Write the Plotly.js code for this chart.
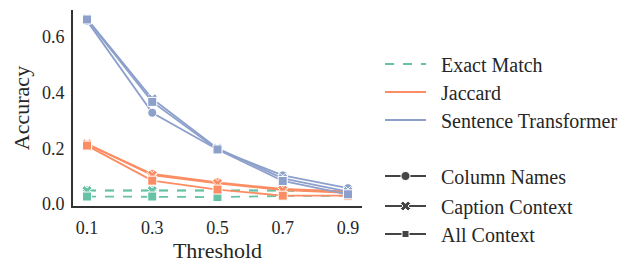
<!DOCTYPE html>
<html>
<head>
<meta charset="utf-8">
<script src="https://cdn.plot.ly/plotly-3.0.1.min.js"></script>
<style>html,body{margin:0;padding:0;background:#fff;}#chart{width:642px;height:275px;}</style>
</head>
<body>
<div id="chart"></div>
<script>
const thresholds = [0.1, 0.3, 0.5, 0.7, 0.9];
const tickLabels = ["0.1", "0.3", "0.5", "0.7", "0.9"];
const metrics = ["Exact Match", "Jaccard", "Sentence Transformer"];
const contexts = ["Column Names", "Caption Context", "All Context"];

const exactColumnNames   = [0.049, 0.049, 0.047, 0.049, 0.046];
const exactCaptionCtx    = [0.048, 0.048, 0.046, 0.048, 0.045];
const exactAllContext    = [0.027, 0.027, 0.025, 0.029, 0.030];

const jaccardColumnNames = [0.215, 0.108, 0.078, 0.054, 0.045];
const jaccardCaptionCtx  = [0.216, 0.104, 0.074, 0.050, 0.040];
const jaccardAllContext  = [0.210, 0.084, 0.052, 0.030, 0.030];

const stColumnNames      = [0.658, 0.328, 0.196, 0.103, 0.057];
const stCaptionCtx       = [0.665, 0.378, 0.200, 0.092, 0.045];
const stAllContext       = [0.663, 0.367, 0.196, 0.083, 0.035];

const colors = {"Exact Match": "#66c2a5", "Jaccard": "#fc8d62", "Sentence Transformer": "#8da0cb"};
const dashes = {"Exact Match": "dash", "Jaccard": "solid", "Sentence Transformer": "solid"};
const symbols = {"Column Names": "circle", "Caption Context": "x", "All Context": "square"};

const series = {
  "Exact Match": [exactColumnNames, exactCaptionCtx, exactAllContext],
  "Jaccard": [jaccardColumnNames, jaccardCaptionCtx, jaccardAllContext],
  "Sentence Transformer": [stColumnNames, stCaptionCtx, stAllContext]
};

const FONT = "Liberation Serif, DejaVu Serif, serif";
const TXT = "#262626";
const traces = [];
metrics.forEach(m => {
  contexts.forEach((c, i) => {
    traces.push({
      x: thresholds, y: series[m][i], type: "scatter", mode: "lines+markers",
      name: m + " / " + c, showlegend: false,
      line: {color: colors[m], width: 1.8, dash: dashes[m]},
      marker: {symbol: symbols[c], size: 9, color: colors[m], line: {color: "#ffffff", width: 1}}
    });
  });
});

const NB = "\u00a0\u00a0";
const legendNames = ["legend", "legend2", "legend3", "legend4", "legend5", "legend6"];
metrics.forEach((m, i) => {
  traces.push({x: [null], y: [null], type: "scatter", mode: "lines", name: NB + m, legend: legendNames[i],
    line: {color: colors[m], width: 1.8, dash: dashes[m]}});
});
contexts.forEach((c, i) => {
  traces.push({x: [null], y: [null], type: "scatter", mode: "lines+markers", name: NB + c, legend: legendNames[3 + i],
    line: {color: "#444444", width: 1.8},
    marker: {symbol: symbols[c], size: c === "All Context" ? 7 : 9, color: "#444444", line: {color: "#ffffff", width: 1}}});
});

const W = 642, H = 275, L = 73, R = 280, T = 10, B = 69;
const plotW = W - L - R, plotH = H - T - B;
const legendPix = [64, 92, 120, 176, 206, 234];
const layout = {
  width: W, height: H,
  margin: {l: L, r: R, t: T, b: B, pad: 0},
  paper_bgcolor: "#ffffff", plot_bgcolor: "#ffffff",
  font: {family: FONT, size: 20, color: TXT},
  xaxis: {
    range: [0.057, 0.943], tickvals: thresholds, ticktext: tickLabels,
    showgrid: false, zeroline: false, showline: true, linecolor: "#333333", linewidth: 2,
    ticks: "outside", ticklen: 4, tickcolor: "rgba(255,255,255,0)", tickfont: {family: FONT, size: 18, color: TXT},
    title: {text: "Threshold", font: {family: FONT, size: 22, color: TXT}, standoff: 3}
  },
  yaxis: {
    range: [-0.007, 0.697], tickvals: [0, 0.2, 0.4, 0.6], ticktext: ["0.0", "0.2", "0.4", "0.6"],
    showgrid: false, zeroline: false, showline: true, linecolor: "#333333", linewidth: 2,
    ticks: "outside", ticklen: 3, tickcolor: "rgba(255,255,255,0)", tickfont: {family: FONT, size: 18, color: TXT},
    title: {text: "Accuracy", font: {family: FONT, size: 22, color: TXT}, standoff: 6}
  }
};
legendNames.forEach((ln, i) => {
  layout[ln] = {
    x: (380 - L) / plotW, xanchor: "left",
    y: 1 - (legendPix[i] - T) / plotH, yanchor: "middle",
    bgcolor: "rgba(0,0,0,0)", borderwidth: 0, itemwidth: 41,
    font: {family: FONT, size: 20, color: TXT}, itemclick: false, itemdoubleclick: false
  };
});

Plotly.newPlot("chart", traces, layout, {displayModeBar: false, staticPlot: true});
</script>
</body>
</html>
